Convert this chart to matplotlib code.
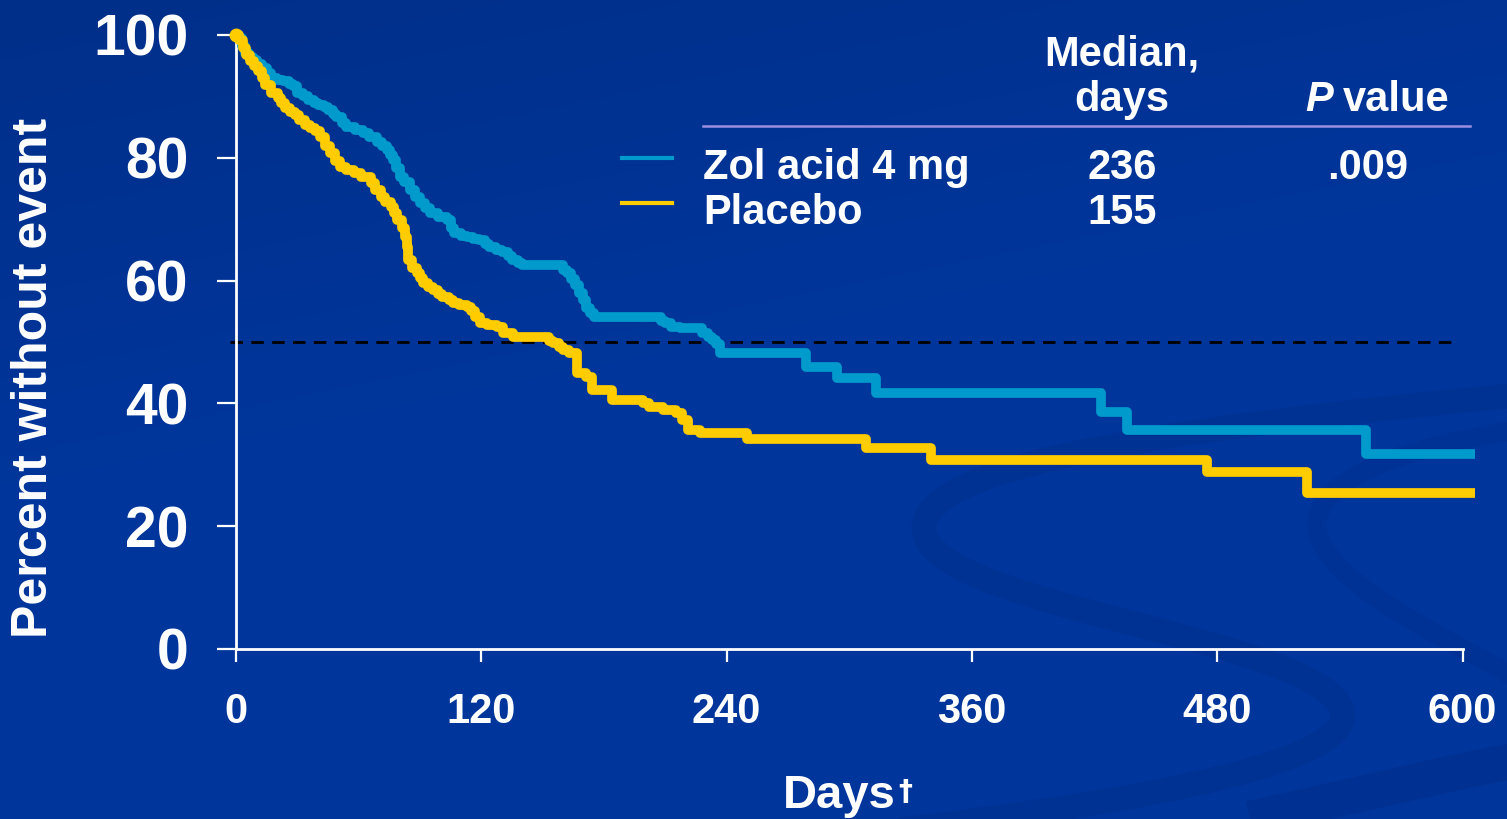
import numpy as np
import matplotlib.pyplot as plt
from matplotlib.lines import Line2D
from matplotlib.path import Path
from matplotlib import patches

plt.rcParams['font.family'] = ['Liberation Sans', 'DejaVu Sans']
plt.rcParams['font.weight'] = 'bold'

# Kaplan-Meier steps: (day, percent without event)
zol_days = [0, 1.5, 3, 4.5, 6.5, 8.5, 10.5, 12.5, 15, 17, 20, 23, 26, 28, 30, 33,
            35, 38, 40, 43, 45, 47.5, 49, 52, 54, 58, 62, 65, 69, 71.5, 74, 75.5,
            77, 78.5, 80, 82, 85, 87.5, 90, 92.5, 95, 99, 103, 105, 106.5, 110,
            113, 116, 119, 122, 124, 127, 130, 133, 135, 138, 140, 160, 162, 164,
            166, 168, 169.5, 171, 173, 175, 208, 210, 213, 217, 228, 231, 233,
            235, 237, 279, 294, 313, 423, 436, 553, 606]
zol_pct = [100, 99.5, 98.2, 97.1, 96.4, 95.9, 95.2, 94.6, 93.8, 93.0, 92.7, 92.5,
           92.0, 91.7, 90.6, 90.0, 89.4, 89.0, 88.6, 88.3, 87.8, 87.2, 86.6, 85.7,
           85.0, 84.5, 84.0, 83.4, 82.6, 82.0, 81.3, 80.5, 79.6, 78.3, 76.9, 76.0,
           74.8, 73.6, 72.6, 71.8, 71.0, 70.4, 69.9, 68.6, 67.7, 67.3, 67.1, 66.8,
           66.6, 66.0, 65.5, 65.0, 64.7, 64.0, 63.4, 62.8, 62.5, 61.8, 61.2, 60.2,
           59.3, 58.0, 56.8, 55.6, 54.7, 54.1, 53.5, 53.1, 52.5, 52.3, 51.5, 50.8,
           50.3, 49.6, 48.2, 45.9, 44.1, 41.7, 38.6, 35.7, 31.8, 31.8]

pbo_days = [0, 1.5, 3.4, 5, 6.8, 9, 10.8, 12.5, 14.2, 17, 20.5, 22, 24, 26.5, 28.8,
            31, 33.7, 36, 38.6, 41, 43.5, 46, 48.5, 51, 54, 57.5, 61, 65.8, 68,
            70.7, 73, 75.6, 77.5, 79, 81, 82.5, 83.5, 84.2, 86, 88.5, 90, 91.5, 94,
            96.3, 99, 101, 104, 106, 109, 113, 115, 117, 119.3, 123, 127.6, 130.6,
            135.5, 153, 155, 158, 160, 163, 167, 171, 174, 184, 199, 202, 209, 215,
            218, 221, 227, 250, 308, 340, 475, 524, 606]
pbo_pct = [100, 99.2, 97.9, 96.8, 95.8, 95.0, 94.1, 93.0, 91.9, 90.6, 89.7, 88.9,
           88.1, 87.5, 87.0, 86.2, 85.3, 84.8, 84.4, 83.4, 82.0, 80.8, 79.5, 78.5,
           78.0, 77.5, 76.9, 75.9, 74.8, 73.6, 72.8, 72.0, 71.0, 69.9, 68.5, 67.1,
           65.5, 63.4, 62.0, 61.2, 60.4, 59.6, 59.0, 58.5, 57.8, 57.3, 56.8, 56.4,
           56.0, 55.7, 55.0, 54.1, 53.1, 52.8, 52.4, 51.5, 50.8, 50.2, 49.8, 49.2,
           48.7, 48.2, 44.9, 44.3, 42.2, 40.6, 40.0, 39.4, 38.9, 38.4, 37.3, 35.7,
           35.2, 34.2, 32.7, 30.8, 28.8, 25.4, 25.4]

groups = ['Zol acid 4 mg', 'Placebo']
medians = ['236', '155']
p_values = ['.009', '']
x_ticks = [0, 120, 240, 360, 480, 600]
y_ticks = [0, 20, 40, 60, 80, 100]

CYAN = '#009ACD'
YELLOW = '#FFCC00'
W, H = 1507, 819


def fx(px):
    return px / W


def fy(py):
    return 1 - py / H


fig = plt.figure(figsize=(W / 100, H / 100), dpi=100)

# slide background: blue, a bit darker toward the top left, with faint swooshes
bg = fig.add_axes([0, 0, 1, 1], zorder=-10)
yy, xx = np.mgrid[0:1:200j, 0:1:300j]
shade = np.clip((1 - yy) * 1.6 - 0.8 + (0.3 - xx) * 0.6, 0, 1)[..., None]
base = np.array([0.0, 0.21, 0.61])
img = base * (1 - 0.12 * shade)
bg.imshow(img, extent=[0, W, H, 0], aspect='auto', interpolation='bilinear')
bg.set_xlim(0, W)
bg.set_ylim(H, 0)
bg.axis('off')

swoosh_col = (0.0, 0.16, 0.48)
s_path = Path([(1520, 395), (1150, 430), (880, 470), (930, 545),
               (980, 610), (1300, 640), (1340, 705),
               (1370, 760), (1150, 800), (900, 830)],
              [Path.MOVETO, Path.CURVE4, Path.CURVE4, Path.CURVE4,
               Path.CURVE4, Path.CURVE4, Path.CURVE4,
               Path.CURVE4, Path.CURVE4, Path.CURVE4])
bg.add_patch(patches.PathPatch(s_path, fc='none', ec=swoosh_col, lw=18, alpha=0.2))
r_path = Path([(1520, 430), (1380, 450), (1300, 490), (1320, 540),
               (1340, 590), (1450, 640), (1520, 680)],
              [Path.MOVETO, Path.CURVE4, Path.CURVE4, Path.CURVE4,
               Path.CURVE4, Path.CURVE4, Path.CURVE4])
bg.add_patch(patches.PathPatch(r_path, fc='none', ec=swoosh_col, lw=14, alpha=0.18))
b_path = Path([(1250, 819), (1380, 790), (1460, 770), (1520, 760)],
              [Path.MOVETO, Path.CURVE4, Path.CURVE4, Path.CURVE4])
bg.add_patch(patches.PathPatch(b_path, fc='none', ec=swoosh_col, lw=26, alpha=0.25))

# main plot
ax = fig.add_axes([fx(236), fy(649), fx(1483 - 236), (649 - 35) / H])
ax.patch.set_alpha(0)
ax.set_xlim(0, 610)
ax.set_ylim(0, 100)

ax.plot([-3, 596], [50, 50], color='black', lw=2, ls=(0, (4.5, 3)), clip_on=False, zorder=2)
ax.step(zol_days, zol_pct, where='post', color=CYAN, lw=7, clip_on=False,
        solid_joinstyle='round', solid_capstyle='butt', zorder=3)
ax.step(pbo_days, pbo_pct, where='post', color=YELLOW, lw=7, clip_on=False,
        solid_joinstyle='round', solid_capstyle='butt', zorder=4)
ax.plot([0], [100], 'o', color=YELLOW, ms=9, clip_on=False, zorder=5)

for s in ['top', 'right']:
    ax.spines[s].set_visible(False)
for s in ['left', 'bottom']:
    ax.spines[s].set_color('white')
    ax.spines[s].set_linewidth(2)
ax.spines['bottom'].set_bounds(0, 600)

ax.set_xticks(x_ticks)
ax.set_yticks(y_ticks)
ax.tick_params(axis='y', colors='white', length=14, width=1.6, pad=20, labelsize=41)
ax.tick_params(axis='x', colors='white', length=9, width=1.6, pad=22, labelsize=30)
for lab in ax.get_xticklabels() + ax.get_yticklabels():
    lab.set_fontweight('bold')

fig.text(fx(34), fy(378), 'Percent without event', rotation=90, color='white',
         fontsize=36, fontweight='bold', ha='center', va='center')
fig.text(fx(896), fy(808), 'Days', color='white', fontsize=34, fontweight='bold',
         ha='right', va='baseline')
fig.text(fx(898), fy(800), '\u2020', color='white', fontsize=20,
         ha='left', va='baseline', family='DejaVu Sans')

# legend table
fig.text(fx(1122), fy(55), 'Median,', color='white', fontsize=30, fontweight='bold',
         ha='center', va='center')
fig.text(fx(1122), fy(100), 'days', color='white', fontsize=30, fontweight='bold',
         ha='center', va='center')
fig.text(fx(1333), fy(100), 'P', color='white', fontsize=30, fontweight='bold',
         style='italic', ha='right', va='center')
fig.text(fx(1343), fy(100), 'value', color='white', fontsize=30, fontweight='bold',
         ha='left', va='center')
fig.add_artist(Line2D([fx(703), fx(1470)], [fy(126), fy(126)], color='#9C8FE0', lw=1.8))

row_y = [168, 213]
for name, med, p, col, y in zip(groups, medians, p_values, [CYAN, YELLOW], row_y):
    fig.add_artist(Line2D([fx(622), fx(672)], [fy(y - 10), fy(y - 10)], color=col, lw=3))
    fig.text(fx(703), fy(y), name, color='white', fontsize=30, fontweight='bold',
             ha='left', va='center')
    fig.text(fx(1122), fy(y), med, color='white', fontsize=30, fontweight='bold',
             ha='center', va='center')
    if p:
        fig.text(fx(1368), fy(y), p, color='white', fontsize=30, fontweight='bold',
                 ha='center', va='center')

fig.savefig('out.png', dpi=100)
